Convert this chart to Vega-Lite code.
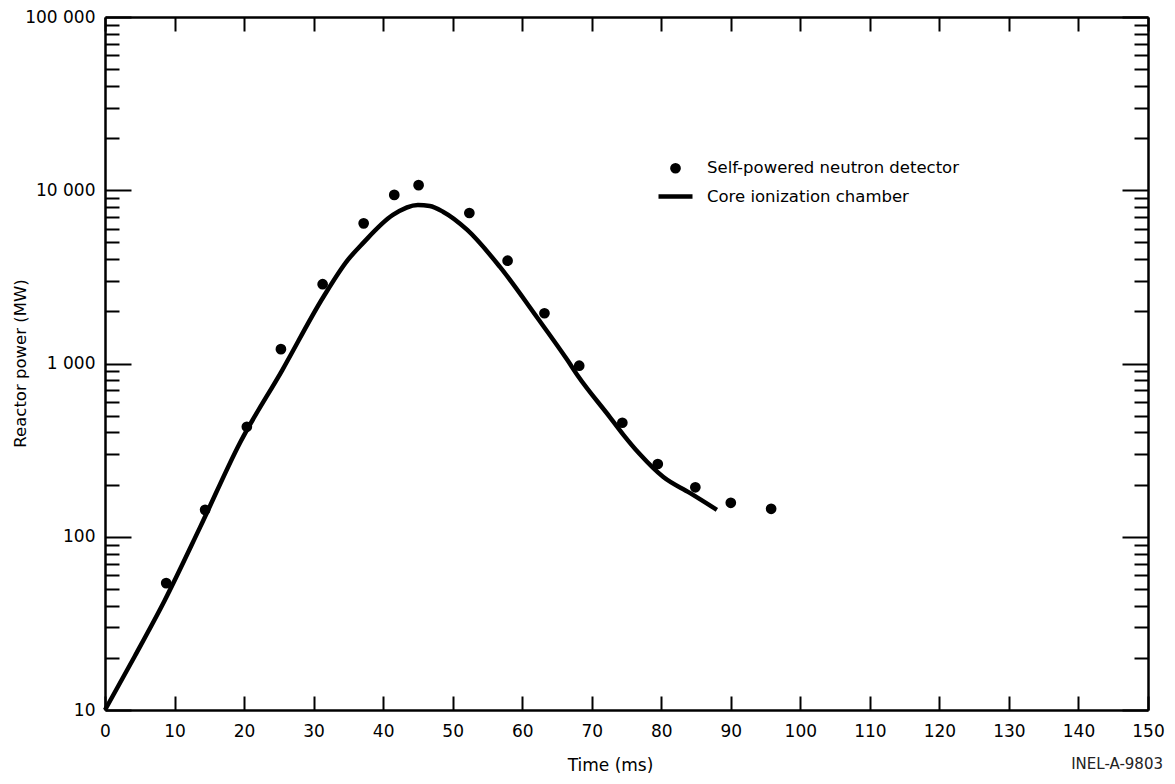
{
  "$schema": "https://vega.github.io/schema/vega-lite/v6.json",
  "width": 1043,
  "height": 693,
  "autosize": {"type": "none"},
  "padding": {"left": 105, "top": 17, "right": 27, "bottom": 74},
  "background": "white",
  "config": {"view": {"stroke": null}, "font": "DejaVu Sans", "axis": {"grid": false}},
  "title": {"text": "INEL-A-9803", "orient": "bottom", "anchor": "end", "frame": "group", "fontSize": 15, "fontWeight": "normal", "font": "DejaVu Sans", "color": "#222222", "dx": 15, "dy": -20},
  "datasets": {
    "detector": [
      {"time": 8.8, "power": 54, "series": "Self-powered neutron detector"},
      {"time": 14.4, "power": 143, "series": "Self-powered neutron detector"},
      {"time": 20.4, "power": 431, "series": "Self-powered neutron detector"},
      {"time": 25.3, "power": 1210, "series": "Self-powered neutron detector"},
      {"time": 31.3, "power": 2870, "series": "Self-powered neutron detector"},
      {"time": 37.2, "power": 6440, "series": "Self-powered neutron detector"},
      {"time": 41.6, "power": 9400, "series": "Self-powered neutron detector"},
      {"time": 45.1, "power": 10700, "series": "Self-powered neutron detector"},
      {"time": 52.4, "power": 7390, "series": "Self-powered neutron detector"},
      {"time": 57.9, "power": 3920, "series": "Self-powered neutron detector"},
      {"time": 63.2, "power": 1950, "series": "Self-powered neutron detector"},
      {"time": 68.2, "power": 971, "series": "Self-powered neutron detector"},
      {"time": 74.4, "power": 455, "series": "Self-powered neutron detector"},
      {"time": 79.5, "power": 263, "series": "Self-powered neutron detector"},
      {"time": 84.9, "power": 193, "series": "Self-powered neutron detector"},
      {"time": 90.0, "power": 157, "series": "Self-powered neutron detector"},
      {"time": 95.8, "power": 145, "series": "Self-powered neutron detector"}
    ],
    "chamber": [
      {"time": 0, "power": 10},
      {"time": 4.3, "power": 20.5},
      {"time": 8.6, "power": 43},
      {"time": 13.7, "power": 114},
      {"time": 19.4, "power": 348},
      {"time": 25.5, "power": 917},
      {"time": 31.4, "power": 2420},
      {"time": 34.9, "power": 3950},
      {"time": 37.1, "power": 4950},
      {"time": 41.4, "power": 7200},
      {"time": 45.0, "power": 8220},
      {"time": 46.7, "power": 8110},
      {"time": 48.6, "power": 7520},
      {"time": 52.1, "power": 5900},
      {"time": 56.8, "power": 3610},
      {"time": 62.1, "power": 1855},
      {"time": 66.5, "power": 1047},
      {"time": 68.0, "power": 850},
      {"time": 72.6, "power": 491},
      {"time": 74.5, "power": 390},
      {"time": 76.9, "power": 300},
      {"time": 80.3, "power": 221},
      {"time": 84.1, "power": 179},
      {"time": 88.0, "power": 143}
    ]
  },
  "layer": [
    {
      "data": {"name": "chamber"},
      "mark": {"type": "line", "color": "black", "strokeWidth": 4.5, "interpolate": "monotone", "strokeCap": "butt"},
      "encoding": {
        "x": {"field": "time", "type": "quantitative", "scale": {"domain": [0, 150], "nice": false, "zero": false},
          "axis": {"orient": "top", "values": [0,10,20,30,40,50,60,70,80,90,100,110,120,130,140,150], "tickSize": -14, "tickWidth": 2, "tickColor": "black", "domainColor": "black", "domainWidth": 2.5, "labels": false, "title": null, "grid": false}},
        "y": {"field": "power", "type": "quantitative", "scale": {"type": "log", "domain": [10, 100000], "nice": false},
          "axis": {"orient": "right", "values": [10,20,30,40,50,60,70,80,90,100,200,300,400,500,600,700,800,900,1000,2000,3000,4000,5000,6000,7000,8000,9000,10000,20000,30000,40000,50000,60000,70000,80000,90000,100000],
            "tickSize": {"condition": {"test": "indexof([10,100,1000,10000,100000], datum.value) >= 0", "value": -26}, "value": -14},
            "tickWidth": 2, "tickColor": "black", "domainColor": "black", "domainWidth": 2.5, "labels": false, "title": null, "grid": false}}
      }
    },
    {
      "data": {"name": "detector"},
      "mark": {"type": "point", "filled": true, "opacity": 1, "color": "black", "fill": "black", "stroke": "black"},
      "encoding": {
        "x": {"field": "time", "type": "quantitative", "scale": {"domain": [0, 150], "nice": false, "zero": false},
          "axis": {"orient": "bottom", "values": [0,10,20,30,40,50,60,70,80,90,100,110,120,130,140,150], "tickSize": -14, "tickWidth": 2, "tickColor": "black", "domainColor": "black", "domainWidth": 2.5,
            "labelPadding": 27, "labelFontSize": 17, "labelFont": "DejaVu Sans", "labelColor": "black", "labelFlush": false, "labelOverlap": false, "grid": false,
            "title": "Time (ms)", "titleFontSize": 17, "titleFont": "DejaVu Sans", "titleFontWeight": "normal", "titleColor": "black", "titleX": 505, "titleY": 55, "titleBaseline": "middle", "titleAlign": "center"}},
        "y": {"field": "power", "type": "quantitative", "scale": {"type": "log", "domain": [10, 100000], "nice": false},
          "axis": {"orient": "left", "values": [10,20,30,40,50,60,70,80,90,100,200,300,400,500,600,700,800,900,1000,2000,3000,4000,5000,6000,7000,8000,9000,10000,20000,30000,40000,50000,60000,70000,80000,90000,100000],
            "tickSize": {"condition": {"test": "indexof([10,100,1000,10000,100000], datum.value) >= 0", "value": -26}, "value": -14},
            "tickWidth": 2, "tickColor": "black", "domainColor": "black", "domainWidth": 2.5,
            "labelExpr": "datum.value == 100000 ? '100 000' : datum.value == 10000 ? '10 000' : datum.value == 1000 ? '1 000' : datum.value == 100 ? '100' : datum.value == 10 ? '10' : ''",
            "labelPadding": 36, "labelFontSize": 17, "labelFont": "DejaVu Sans", "labelColor": "black", "labelOverlap": false, "labelFlush": false, "grid": false,
            "title": "Reactor power (MW)", "titleFontSize": 16.5, "titleFont": "DejaVu Sans", "titleFontWeight": "normal", "titleColor": "black", "titleX": -85, "titleY": 346, "titleAngle": 270, "titleBaseline": "middle", "titleAlign": "center"}},
        "shape": {"field": "series", "type": "nominal",
          "scale": {"domain": ["Self-powered neutron detector", "Core ionization chamber"], "range": ["circle", "stroke"]},
          "legend": {"title": null, "orient": "none", "legendX": 551, "legendY": 143, "padding": 0, "labelOffset": 12, "rowPadding": -15, "labelLimit": 500,
            "labelFont": "DejaVu Sans", "labelFontSize": 16.5, "labelColor": "black", "symbolOpacity": 1,
            "encode": {"symbols": {"stroke": {"value": "black"}, "fill": {"value": "black"}}}}},
        "size": {"field": "series", "type": "nominal",
          "scale": {"domain": ["Self-powered neutron detector", "Core ionization chamber"], "range": [115, 1156]},
          "legend": {"title": null, "orient": "none", "legendX": 551, "legendY": 143, "padding": 0, "labelOffset": 12, "rowPadding": -15, "labelLimit": 500,
            "labelFont": "DejaVu Sans", "labelFontSize": 16.5, "labelColor": "black", "symbolOpacity": 1,
            "encode": {"symbols": {"stroke": {"value": "black"}, "fill": {"value": "black"}}}}},
        "strokeWidth": {"field": "series", "type": "nominal",
          "scale": {"domain": ["Self-powered neutron detector", "Core ionization chamber"], "range": [0, 4.5]},
          "legend": {"title": null, "orient": "none", "legendX": 551, "legendY": 143, "padding": 0, "labelOffset": 12, "rowPadding": -15, "labelLimit": 500,
            "labelFont": "DejaVu Sans", "labelFontSize": 16.5, "labelColor": "black", "symbolOpacity": 1,
            "encode": {"symbols": {"stroke": {"value": "black"}, "fill": {"value": "black"}}}}}
      }
    }
  ],
  "resolve": {"axis": {"x": "independent", "y": "independent"}}
}
